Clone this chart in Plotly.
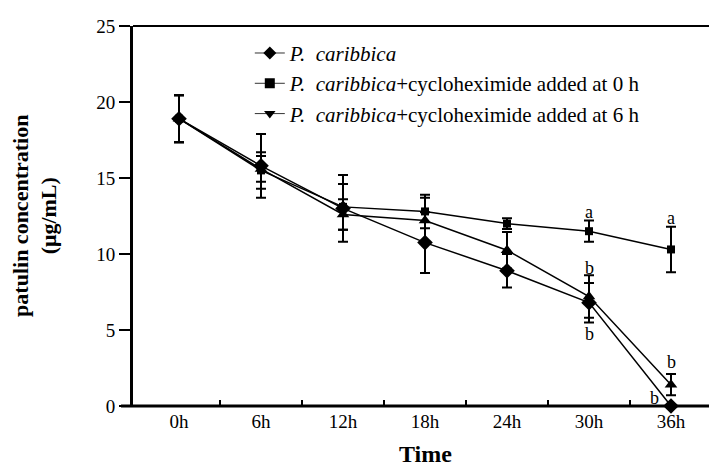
import plotly.graph_objects as go

x_labels = ["0h", "6h", "12h", "18h", "24h", "30h", "36h"]
pc = [18.9, 15.8, 13.0, 10.75, 8.9, 6.8, 0.0]
pc_err = [1.55, 2.1, 2.2, 2.0, 1.1, 1.3, 0.0]
cyc0 = [18.9, 15.5, 13.1, 12.8, 12.0, 11.5, 10.3]
cyc0_err = [1.55, 1.2, 1.5, 1.1, 0.35, 0.7, 1.5]
cyc6 = [18.9, 15.6, 12.6, 12.2, 10.25, 7.2, 1.4]
cyc6_err = [1.55, 0.85, 1.0, 1.5, 1.2, 1.4, 0.7]

legend_names = [
    "<i>P.</i>&nbsp; <i>caribbica</i>",
    "<i>P.</i>&nbsp; <i>caribbica</i>+cycloheximide added at 0 h",
    "<i>P.</i>&nbsp; <i>caribbica</i>+cycloheximide added at 6 h",
]

sig_x = [5, 5, 5, 6, 6, 5.8]
sig_y = [12.75, 9.1, 4.75, 12.4, 2.9, 0.5]
sig_text = ["a", "b", "b", "a", "b", "b"]

y_ticks = [0, 5, 10, 15, 20, 25]

SERIF = "Liberation Serif"
xi = list(range(len(x_labels)))

fig = go.Figure()

series = [
    (pc, pc_err, "diamond", 12),
    (cyc0, cyc0_err, "square", 8),
    (cyc6, cyc6_err, "triangle-up", 11),
]
for vals, errs, sym, sz in series:
    fig.add_trace(go.Scatter(
        x=xi, y=vals, mode="lines+markers", showlegend=False,
        line=dict(color="black", width=1.5),
        marker=dict(symbol=sym, size=sz, color="black"),
        error_y=dict(type="data", array=errs, visible=True,
                     color="black", thickness=2, width=5),
        cliponaxis=False,
    ))

legend_syms = ["diamond", "square", "triangle-down"]
for name, sym in zip(legend_names, legend_syms):
    fig.add_trace(go.Scatter(
        x=[None], y=[None], mode="lines+markers", name=name,
        line=dict(color="#333", width=1),
        marker=dict(symbol=sym, size=10, color="black"),
    ))

for sx, sy, st in zip(sig_x, sig_y, sig_text):
    fig.add_annotation(x=sx, y=sy, text=st, showarrow=False,
                       font=dict(family=SERIF, size=18, color="black"),
                       xanchor="center", yanchor="middle")

fig.add_annotation(xref="paper", yref="paper", x=-0.168, y=0.5,
                   text="<b>patulin concentration</b><br><b>(μg/mL)</b>",
                   textangle=-90, showarrow=False,
                   font=dict(family=SERIF, size=22, color="black"),
                   xanchor="center", yanchor="middle")
fig.add_annotation(xref="paper", yref="paper", x=0.5, y=-0.125,
                   text="<b>Time</b>", showarrow=False,
                   font=dict(family=SERIF, size=24, color="black"),
                   xanchor="center", yanchor="middle")

# frame lines
fig.add_shape(type="line", xref="paper", yref="paper", x0=-0.0205, x1=1.006, y0=0, y1=0,
              line=dict(color="black", width=3))
fig.add_shape(type="line", xref="paper", yref="paper", x0=0, x1=1.0, y0=1, y1=1,
              line=dict(color="black", width=2))
fig.add_shape(type="line", xref="paper", yref="paper", x0=1.0, x1=1.0, y0=0, y1=1,
              line=dict(color="black", width=3))

fig.update_layout(
    width=717, height=470,
    margin=dict(l=125, r=8, t=15, b=72),
    paper_bgcolor="white", plot_bgcolor="white",
    font=dict(family=SERIF, color="black"),
    legend=dict(x=0.2, y=0.982, xanchor="left", yanchor="top",
                bgcolor="rgba(0,0,0,0)", font=dict(family=SERIF, size=21, color="black")),
    xaxis=dict(range=[-0.561, 6.561], tickvals=xi, ticktext=x_labels,
               ticks="", showgrid=False, zeroline=False, showline=False,
               tickfont=dict(family=SERIF, size=19, color="black"),
               ticklabelstandoff=2,
               minor=dict(tickvals=[0.5, 1.5, 2.5, 3.5, 4.5, 5.5], ticks="inside",
                          ticklen=6, tickwidth=1.5, tickcolor="black", showgrid=False)),
    yaxis=dict(range=[0, 25], tickvals=y_ticks, ticks="outside", ticklen=11,
               tickwidth=2, tickcolor="black", showgrid=False, zeroline=False,
               showline=True, linewidth=3, linecolor="black",
               tickfont=dict(family=SERIF, size=19, color="black")),
)

fig.write_html("out.html")
